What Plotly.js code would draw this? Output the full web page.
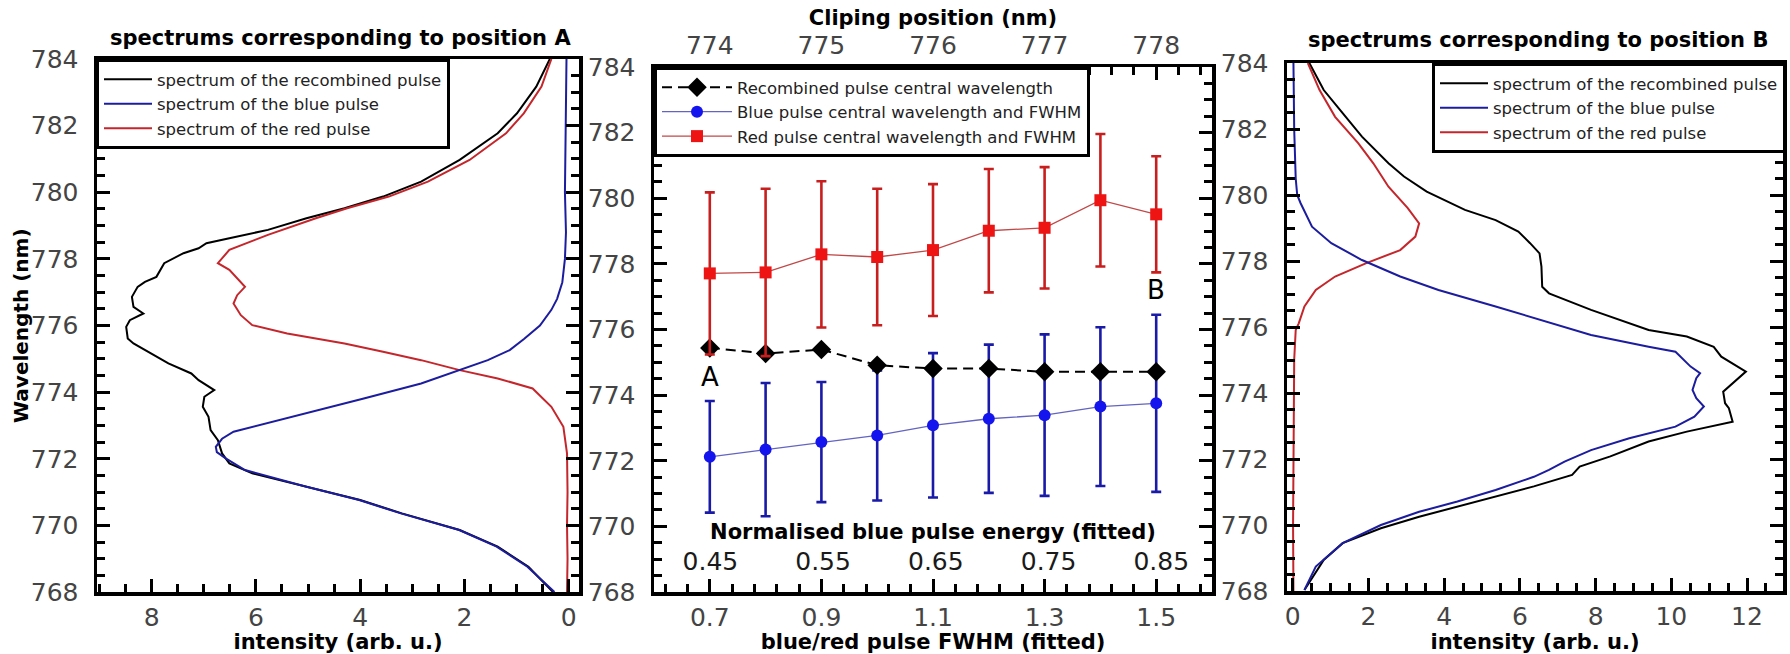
<!DOCTYPE html>
<html>
<head>
<meta charset="utf-8">
<script src="https://cdn.plot.ly/plotly-3.0.1.min.js"></script>
<style>html,body{margin:0;padding:0;background:#fff;}#chart{width:1790px;height:654px;}</style>
</head>
<body>
<div id="chart"></div>
<script>
// ---------------- DATA ----------------
// Left panel: spectra for position A (wavelength nm, intensity arb. u.)
const wlA_rec  = [784.0,783.17,782.37,781.77,780.97,780.32,779.87,779.52,779.22,778.87,778.62,778.47,778.32,778.17,777.87,777.67,777.46,777.31,777.16,776.86,776.56,776.36,776.16,775.96,775.61,775.46,775.26,774.86,774.56,774.36,774.06,773.86,773.56,773.26,772.86,772.56,772.16,771.86,771.56,771.16,770.76,770.36,769.86,769.36,768.76,768.0];
const intA_rec = [0.36,0.62,0.99,1.36,2.09,2.83,3.56,4.30,5.03,5.77,6.51,6.95,7.10,7.39,7.76,7.83,7.91,8.13,8.27,8.38,8.35,8.16,8.42,8.49,8.46,8.35,8.13,7.68,7.24,7.10,6.80,6.99,7.02,6.91,6.87,6.73,6.65,6.51,6.07,5.03,4.00,3.20,2.09,1.36,0.77,0.30];
const wlA_blue  = [784.0,782.0,780.0,778.8,778.0,777.3,776.8,776.47,776.0,775.6,775.26,774.96,774.66,774.26,773.81,773.36,773.06,772.81,772.6,772.36,772.2,772.01,771.66,771.16,770.76,770.36,769.86,769.36,768.76,768.0];
const intA_blue = [0.04,0.06,0.07,0.05,0.07,0.12,0.22,0.33,0.55,0.85,1.13,1.55,2.09,2.83,3.93,5.03,5.77,6.43,6.65,6.77,6.75,6.58,6.21,5.03,4.02,3.22,2.10,1.38,0.79,0.27];
const wlA_red  = [784.0,783.17,782.37,781.77,780.97,780.32,779.87,779.52,779.22,778.72,778.27,777.87,777.67,777.16,776.91,776.66,776.31,776.01,775.76,775.46,775.21,774.96,774.66,774.41,774.11,773.56,772.96,772.16,771.0,770.0,769.0,768.0];
const intA_red = [0.33,0.52,0.86,1.20,1.90,2.70,3.45,4.25,4.85,5.77,6.51,6.73,6.51,6.21,6.36,6.43,6.29,6.07,5.40,4.30,3.56,2.83,2.09,1.36,0.69,0.33,0.10,0.03,0.02,0.03,0.02,0.03];

// Right panel: spectra for position B
const wlB_rec  = [784.0,783.18,782.48,781.77,780.96,780.56,780.10,779.55,779.24,778.89,778.54,778.23,777.83,777.22,777.02,776.52,775.91,775.71,775.40,775.10,774.65,774.29,774.04,773.69,773.54,773.13,772.83,772.53,772.08,771.77,771.52,771.17,770.86,770.56,770.25,769.90,769.45,768.94,768.03];
const intB_rec = [0.44,0.82,1.32,1.83,2.53,2.94,3.54,4.55,5.36,5.96,6.27,6.52,6.57,6.59,6.77,7.88,9.40,10.41,11.12,11.32,11.97,11.62,11.37,11.42,11.52,11.62,10.41,9.40,8.39,7.58,7.38,6.37,5.36,4.35,3.34,2.33,1.32,0.82,0.31];
const wlB_blue  = [784.0,782.0,780.5,780.0,779.75,779.04,778.54,778.03,777.53,777.12,776.62,776.11,775.76,775.40,775.25,774.80,774.60,774.45,774.09,773.84,773.59,773.28,772.98,772.63,772.27,771.92,771.67,771.46,771.06,770.71,770.40,770.00,769.45,768.74,768.03];
const intB_blue = [0.02,0.04,0.08,0.12,0.21,0.51,1.02,1.83,2.84,3.85,5.36,6.88,7.88,9.40,10.11,10.51,10.76,10.66,10.56,10.66,10.86,10.61,10.11,8.89,7.88,7.18,6.77,6.37,5.36,4.35,3.34,2.33,1.32,0.61,0.31];
const wlB_red  = [784.0,783.18,782.37,781.57,780.96,780.25,779.60,779.14,778.74,778.33,777.93,777.53,777.12,776.62,776.11,775.91,775.0,772.0,770.0,768.0];
const intB_red = [0.40,0.71,1.12,1.73,2.13,2.53,3.04,3.34,3.24,2.84,1.93,1.12,0.61,0.31,0.16,0.08,0.04,0.02,0.01,0.02];

// Middle panel: fitted values vs blue/red pulse FWHM
const fwhm        = [0.7,0.8,0.9,1.0,1.1,1.2,1.3,1.4,1.5];
const clipPos     = [774,774.5,775,775.5,776,776.5,777,777.5,778];
const blueEnergy  = [0.45,0.50,0.55,0.60,0.65,0.70,0.75,0.80,0.85];
const recCenter   = [775.44,775.27,775.39,774.91,774.81,774.81,774.71,774.71,774.71];
const blueCenter  = [772.12,772.34,772.57,772.77,773.08,773.28,773.39,773.65,773.75];
const blueHalfW   = [1.70,2.03,1.83,1.98,2.20,2.26,2.46,2.42,2.70];
const redCenter   = [777.71,777.74,778.29,778.21,778.42,779.01,779.10,779.94,779.51];
const redHalfW    = [2.47,2.55,2.23,2.08,2.01,1.88,1.85,2.02,1.77];
const pointLabels = ['A','B'];

const legendSpec = ['spectrum of the recombined pulse','spectrum of the blue pulse','spectrum of the red pulse'];
const legendMid  = ['Recombined pulse central wavelength','Blue pulse central wavelength and FWHM','Red pulse central wavelength and FWHM'];

// ---------------- STYLE ----------------
const W = 1790, H = 654;
const px = v => v / W;
const py = v => (H - v) / H;
const FONT = 'DejaVu Sans';
const tickFont = {family: FONT, size: 25, color: '#444'};
const boldFont = {family: FONT, size: 21, color: '#000', weight: 'bold'};
const cBlack = '#000000', cBlue = '#1c1c9e', cRed = '#c4262b';

function frameAxis(extra) {
  return Object.assign({
    showline: true, linecolor: '#000', linewidth: 3.5,
    ticks: 'inside', ticklen: 13, tickwidth: 3, tickcolor: '#000',
    showgrid: false, zeroline: false, tickfont: tickFont,
    ticklabelstandoff: 10, fixedrange: true
  }, extra);
}
function minor(d) { return {ticks: 'inside', ticklen: 8, tickwidth: 3, tickcolor: '#000', dtick: d, showgrid: false}; }

const traces = [];
function spec(x, y, name, color, xa, ya, leg, rank) {
  traces.push({type: 'scatter', mode: 'lines', x: x, y: y, name: name,
    line: {color: color, width: 2}, xaxis: xa, yaxis: ya, legend: leg, legendrank: rank, hoverinfo: 'skip'});
}
// Left (A)
spec(intA_rec, wlA_rec, legendSpec[0], cBlack, 'x', 'y', 'legend', 1);
spec(intA_red, wlA_red, legendSpec[2], cRed, 'x', 'y', 'legend', 3);
spec(intA_blue, wlA_blue, legendSpec[1], cBlue, 'x', 'y', 'legend', 2);
// Right (B)
spec(intB_rec, wlB_rec, legendSpec[0], cBlack, 'x3', 'y3', 'legend3', 1);
spec(intB_red, wlB_red, legendSpec[2], cRed, 'x3', 'y3', 'legend3', 3);
spec(intB_blue, wlB_blue, legendSpec[1], cBlue, 'x3', 'y3', 'legend3', 2);

// Middle
traces.push({type: 'scatter', mode: 'lines+markers', x: fwhm, y: blueCenter, name: legendMid[1],
  line: {color: '#6464c0', width: 1.3}, marker: {symbol: 'circle', size: 12, color: '#1414ee'},
  error_y: {type: 'data', array: blueHalfW, visible: true, color: '#1a1aa8', thickness: 2.6, width: 5},
  xaxis: 'x2', yaxis: 'y2', legend: 'legend2', legendrank: 2, hoverinfo: 'skip'});
traces.push({type: 'scatter', mode: 'lines+markers', x: fwhm, y: recCenter, name: legendMid[0],
  line: {color: '#000', width: 2, dash: '10px,6px'}, marker: {symbol: 'diamond', size: 15, color: '#000'},
  xaxis: 'x2', yaxis: 'y2', legend: 'legend2', legendrank: 1, hoverinfo: 'skip'});
traces.push({type: 'scatter', mode: 'lines+markers', x: fwhm, y: redCenter, name: legendMid[2],
  line: {color: '#c04848', width: 1.3}, marker: {symbol: 'square', size: 12, color: '#ee1414'},
  error_y: {type: 'data', array: redHalfW, visible: true, color: '#c81e1e', thickness: 2.6, width: 5},
  xaxis: 'x2', yaxis: 'y2', legend: 'legend2', legendrank: 3, hoverinfo: 'skip'});
// invisible carriers for the secondary x-axes of the middle panel
traces.push({type: 'scatter', mode: 'markers', x: clipPos, y: recCenter, xaxis: 'x4', yaxis: 'y2',
  marker: {opacity: 0}, showlegend: false, hoverinfo: 'skip'});
traces.push({type: 'scatter', mode: 'markers', x: blueEnergy, y: recCenter, xaxis: 'x5', yaxis: 'y2',
  marker: {opacity: 0}, showlegend: false, hoverinfo: 'skip'});

const legendBase = {
  bgcolor: '#fff', bordercolor: '#000', borderwidth: 3,
  font: {family: FONT, size: 16.5, color: '#222'}, xanchor: 'left', yanchor: 'top',
  tracegroupgap: 0, itemwidth: 48
};

const layout = {
  width: W, height: H, margin: {l: 0, r: 0, t: 0, b: 0},
  paper_bgcolor: '#fff', plot_bgcolor: '#fff', showlegend: true,
  font: {family: FONT},
  // left panel
  xaxis: frameAxis({domain: [px(97), px(579)], anchor: 'y', range: [9.05, -0.2], dtick: 2, tick0: 0,
    minor: minor(0.5), mirror: true, ticklabelstandoff: 0,
    title: {text: 'intensity (arb. u.)', font: boldFont, standoff: 0}}),
  yaxis: frameAxis({domain: [py(592), py(59)], anchor: 'x', range: [768, 784], dtick: 2, tick0: 768,
    minor: minor(0.5), mirror: 'ticks'}),
  // middle panel
  xaxis2: frameAxis({domain: [px(654), px(1212)], anchor: 'y2', range: [0.6, 1.6], dtick: 0.2, tick0: 0.7,
    minor: Object.assign(minor(0.04), {tick0: 0.7}), ticklabelstandoff: 0,
    title: {text: 'blue/red pulse FWHM (fitted)', font: boldFont, standoff: 0}}),
  yaxis2: frameAxis({domain: [py(592), py(67)], anchor: 'x2', range: [768, 784], dtick: 2, tick0: 768,
    minor: minor(0.5), mirror: 'ticks'}),
  xaxis4: frameAxis({overlaying: 'x2', anchor: 'y2', side: 'top', range: [773.5, 778.5], dtick: 1, tick0: 774,
    minor: Object.assign(minor(0.2), {tick0: 774}), ticklabelstandoff: 0,
    title: {text: 'Cliping position (nm)', font: boldFont, standoff: 0}}),
  xaxis5: {overlaying: 'x2', anchor: 'free', position: py(575), side: 'top', range: [0.4, 0.895],
    dtick: 0.1, tick0: 0.45, ticks: '', showline: false, showgrid: false, zeroline: false,
    tickfont: {family: FONT, size: 25, color: '#1a1a1a'}, ticklabelstandoff: 0, fixedrange: true,
    title: {text: 'Normalised blue pulse energy (fitted)', font: boldFont, standoff: 0}},
  // right panel
  xaxis3: frameAxis({domain: [px(1287), px(1783)], anchor: 'y3', range: [-0.15, 12.95], dtick: 2, tick0: 0,
    minor: minor(0.5), mirror: true, ticklabelstandoff: 0,
    title: {text: 'intensity (arb. u.)', font: boldFont, standoff: 0}}),
  yaxis3: frameAxis({domain: [py(591), py(63)], anchor: 'x3', range: [768, 784], dtick: 2, tick0: 768,
    minor: minor(0.5), mirror: 'ticks'}),
  legend: Object.assign({}, legendBase, {x: px(96), y: py(59)}),
  legend2: Object.assign({}, legendBase, {x: px(654), y: py(67), itemwidth: 70}),
  legend3: Object.assign({}, legendBase, {x: px(1432), y: py(63)}),
  annotations: [
    {text: 'Wavelength (nm)', xref: 'paper', yref: 'paper', x: px(21), y: py(326), textangle: -90,
      xanchor: 'center', yanchor: 'middle', showarrow: false, font: Object.assign({}, boldFont, {size: 20})},
    {text: 'spectrums corresponding to position A', xref: 'paper', yref: 'paper', x: px(340), y: py(38),
      xanchor: 'center', yanchor: 'middle', showarrow: false, font: boldFont},
    {text: 'spectrums corresponding to position B', xref: 'paper', yref: 'paper', x: px(1538), y: py(40),
      xanchor: 'center', yanchor: 'middle', showarrow: false, font: boldFont},
    {text: pointLabels[0], xref: 'x2', yref: 'y2', x: fwhm[0], y: recCenter[0], yshift: -29,
      showarrow: false, font: {family: FONT, size: 26, color: '#000'}},
    {text: pointLabels[1], xref: 'x2', yref: 'y2', x: fwhm[fwhm.length - 1], y: redCenter[redCenter.length - 1], yshift: -76,
      showarrow: false, font: {family: FONT, size: 26, color: '#000'}}
  ]
};

Plotly.newPlot('chart', traces, layout, {staticPlot: true, displayModeBar: false});
</script>
</body>
</html>
